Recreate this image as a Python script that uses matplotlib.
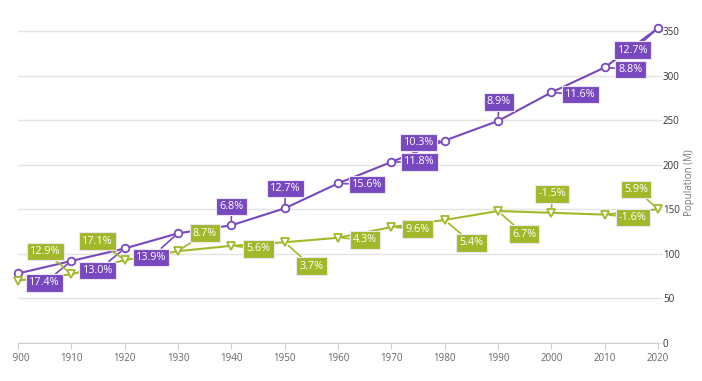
import matplotlib.pyplot as plt
from matplotlib.transforms import Bbox

# Dados
anos = [1900, 1910, 1920, 1930, 1940, 1950, 1960, 1970, 1980, 1990, 2000, 2010, 2020]
pop_roxo = [78, 92, 106, 123, 132, 151, 179, 203, 227, 249, 281, 309, 353]
pop_verde = [70, 77, 93, 103, 109, 113, 118, 130, 138, 148, 146, 144, 150]
rot_roxo = ['17.4%', '13.0%', '13.9%', '6.8%', '12.7%', '15.6%', '11.8%',
            '10.3%', '8.9%', '11.6%', '8.8%', '12.7%']
rot_verde = ['12.9%', '17.1%', '8.7%', '5.6%', '3.7%', '4.3%', '9.6%',
             '5.4%', '6.7%', '-1.5%', '-1.6%', '5.9%']
yticks = [0, 50, 100, 150, 200, 250, 300, 350]

# deslocamento das caixas (pixels) em relação ao ponto
desl_roxo = [(-27, -22), (-27, -22), (-27, -24), (0, 19), (1, 20), (29, -1), (28, 0),
             (-26, -2), (1, 19), (29, -2), (26, -2), (-25, -22)]
desl_verde = [(-26, 23), (-27, 19), (27, 18), (27, -3), (27, -24), (27, -2), (26, -2),
              (27, -23), (26, -23), (1, 19), (28, -3), (-22, 20)]

roxo = '#7848BE'
verde = '#A2B82A'

plt.rcParams['font.family'] = ['Open Sans', 'DejaVu Sans']

fig = plt.figure(figsize=(7.02, 3.81), dpi=100)
ax = fig.add_axes([18 / 702, 38 / 381, 640 / 702, 321 / 381])

ax.plot(anos, pop_roxo, color=roxo, lw=1.5, marker='o', ms=5.5, mfc='white',
        mec=roxo, mew=1.3, zorder=3, clip_on=False)
ax.plot(anos, pop_verde, color=verde, lw=1.5, marker='v', ms=6, mfc='white',
        mec=verde, mew=1.3, zorder=3, clip_on=False)

def rotular(valores, textos, desl, cor):
    for x, y, t, (dx, dy) in zip(anos[1:], valores[1:], textos, desl):
        ax.annotate(t, (x, y), xytext=(dx, dy), textcoords='offset pixels',
                    ha='center', va='center', color='white', fontsize=7.8,
                    bbox=dict(boxstyle='square,pad=0.3', fc=cor, ec='#ece6f4', lw=0.8),
                    arrowprops=dict(arrowstyle='-', color=cor, lw=1.2,
                                    shrinkA=0, shrinkB=3.5),
                    zorder=4)

rotular(pop_roxo, rot_roxo, desl_roxo, roxo)
rotular(pop_verde, rot_verde, desl_verde, verde)

ax.set_xlim(1900, 2020)
ax.set_ylim(0, 360)
ax.set_xticks(anos)
ax.set_xticklabels([str(a) for a in anos])
ax.set_yticks(yticks)
ax.yaxis.tick_right()
ax.yaxis.set_label_position('right')
ax.set_ylabel('Population (M)', fontsize=7, color='#777777')
ax.yaxis.set_label_coords(1.040, 0.5)
ax.grid(axis='y', color='#e3e3e3', lw=1)
ax.set_axisbelow(True)
for s in ['top', 'left', 'right']:
    ax.spines[s].set_visible(False)
ax.spines['bottom'].set_color('#cccccc')
ax.tick_params(axis='x', colors='#cccccc', labelcolor='#666666', labelsize=7,
               length=4, pad=3)
ax.tick_params(axis='y', colors='#dddddd', labelcolor='#333333', labelsize=7,
               length=3, pad=0.5)

# o rótulo 1900 aparece cortado à esquerda
primeiro = ax.get_xticklabels()[0]
primeiro.set_clip_box(Bbox.from_extents(12, 0, 702, 381))
primeiro.set_clip_on(True)

fig.savefig('out.png', dpi=100)
